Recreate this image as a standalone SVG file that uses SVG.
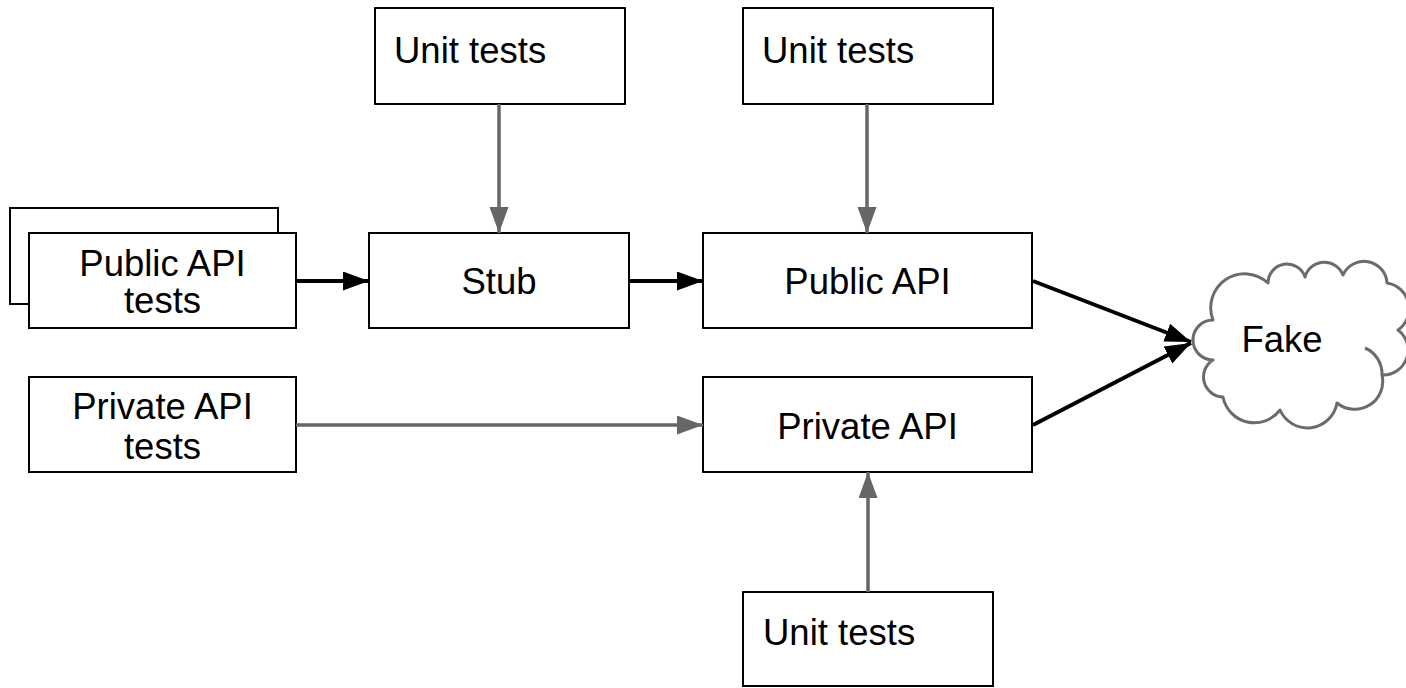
<svg xmlns="http://www.w3.org/2000/svg" width="1406" height="688" viewBox="0 0 1406 688">
<style>
.box{fill:#fff;stroke:#000;stroke-width:2}
.t{font-family:"Liberation Sans",Arial,sans-serif;font-size:36.5px;fill:#000}
.c{text-anchor:middle}
.blk{stroke:#000;stroke-width:4;fill:none}
.gry{stroke:#666;stroke-width:3.5;fill:none}
.cloud{fill:#fff;stroke:#6b6b6b;stroke-width:3;stroke-linejoin:round}
</style>
<defs>
<marker id="ab" markerUnits="userSpaceOnUse" markerWidth="27" markerHeight="20" refX="26" refY="9.5" orient="auto"><path d="M0,0 L26,9.5 L0,19 z" fill="#000"/></marker>
<marker id="ag" markerUnits="userSpaceOnUse" markerWidth="27" markerHeight="20" refX="26" refY="9.5" orient="auto"><path d="M0,0 L26,9.5 L0,19 z" fill="#666"/></marker>
</defs>
<rect width="1406" height="688" fill="#fff"/>
<g id="unit1"><rect class="box" x="375" y="8" width="250" height="96"/><text class="t" x="394" y="63">Unit tests</text></g>
<g id="unit2"><rect class="box" x="743" y="8" width="250" height="96"/><text class="t" x="762" y="63">Unit tests</text></g>
<g id="pubtests"><rect class="box" x="10" y="208" width="268" height="96"/><rect class="box" x="29" y="233" width="267" height="95"/><text class="t c" x="162.5" y="276">Public API</text><text class="t c" x="162.5" y="313">tests</text></g>
<g id="stub"><rect class="box" x="369" y="233" width="260" height="95"/><text class="t c" x="499" y="294">Stub</text></g>
<g id="pubapi"><rect class="box" x="703" y="233" width="329" height="95"/><text class="t c" x="867.5" y="294">Public API</text></g>
<g id="privtests"><rect class="box" x="29" y="377" width="267" height="95"/><text class="t c" x="162.5" y="419">Private API</text><text class="t c" x="162.5" y="459">tests</text></g>
<g id="privapi"><rect class="box" x="703" y="377" width="329" height="95"/><text class="t c" x="867.5" y="439">Private API</text></g>
<g id="unit3"><rect class="box" x="743" y="592" width="250" height="94"/><text class="t" x="763" y="645">Unit tests</text></g>
<g id="fake">
<path class="cloud" d="M1213,360 A20,20 0 0 1 1213,320 A34,34 0 0 1 1268,283 A19,19 0 0 1 1305,277 A20,20 0 0 1 1343,275 A23,23 0 0 1 1387,283 A26,26 0 0 1 1398,330 A25,25 0 0 1 1382,375 A28,28 0 0 1 1337,403 A30,30 0 0 1 1280,410 A32,32 0 0 1 1223,397 A20,20 0 0 1 1213,360 Z"/>
<path class="cloud" style="fill:none" d="M1365,348 A28,28 0 0 1 1382,375"/>
<text class="t c" x="1282" y="352">Fake</text>
</g>
<g id="connectors">
<line class="gry" x1="499" y1="104" x2="499" y2="233" marker-end="url(#ag)"/>
<line class="gry" x1="867" y1="104" x2="867" y2="233" marker-end="url(#ag)"/>
<line class="blk" x1="296" y1="281" x2="369" y2="281" marker-end="url(#ab)"/>
<line class="blk" x1="629" y1="281" x2="703" y2="281" marker-end="url(#ab)"/>
<line class="gry" x1="296" y1="425" x2="703" y2="425" marker-end="url(#ag)"/>
<line class="gry" x1="868" y1="592" x2="868" y2="472" marker-end="url(#ag)"/>
<line class="blk" x1="1033" y1="281" x2="1191" y2="342" marker-end="url(#ab)"/>
<line class="blk" x1="1033" y1="425" x2="1191" y2="343" marker-end="url(#ab)"/>
</g>
</svg>
